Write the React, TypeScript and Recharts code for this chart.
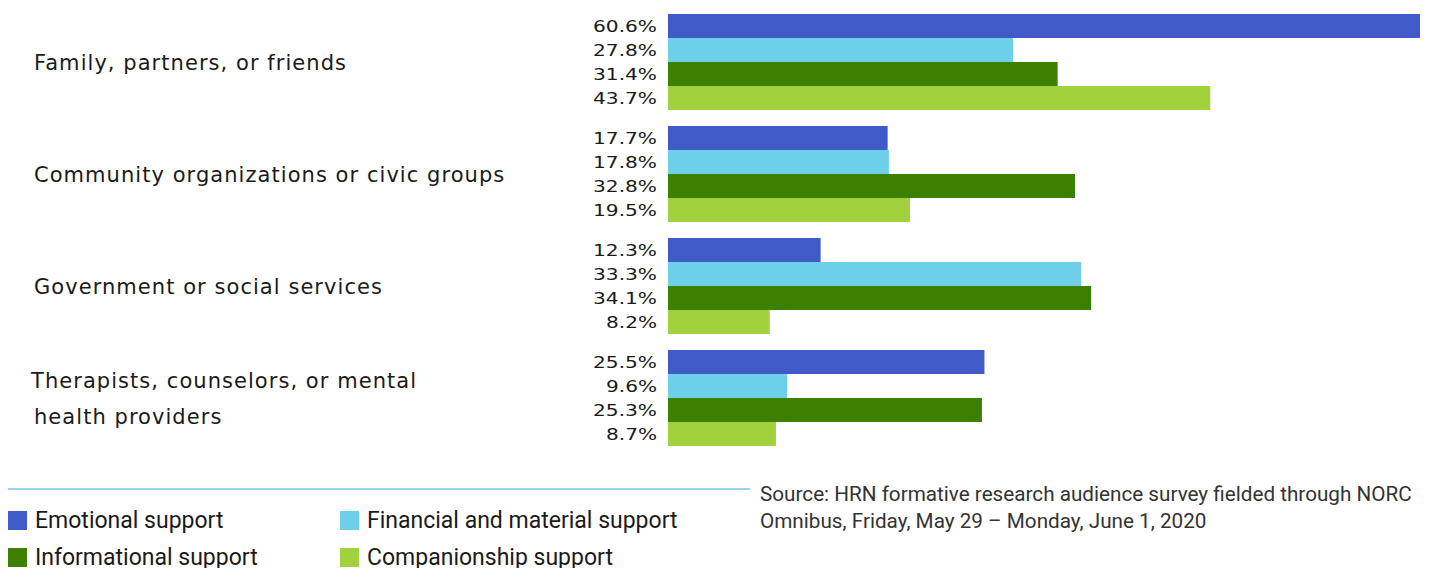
import React from "react";
import { Bar, BarChart, LabelList, Legend, XAxis, YAxis } from "recharts";

const categories = [
  "Family, partners, or friends",
  "Community organizations or civic groups",
  "Government or social services",
  "Therapists, counselors, or mental|health providers",
];
const emotional = [60.6, 17.7, 12.3, 25.5];
const financial = [27.8, 17.8, 33.3, 9.6];
const informational = [31.4, 32.8, 34.1, 25.3];
const companionship = [43.7, 19.5, 8.2, 8.7];

const series = [
  { key: "emotional", name: "Emotional support", color: "#405bc8" },
  { key: "financial", name: "Financial and material support", color: "#6dcfea" },
  { key: "informational", name: "Informational support", color: "#3d7f00" },
  { key: "companionship", name: "Companionship support", color: "#a1d13d" },
];

const data = categories.map((c, i) => ({
  category: c,
  emotional: emotional[i],
  financial: financial[i],
  informational: informational[i],
  companionship: companionship[i],
}));

const CategoryTick = (props: any) => {
  const { y, payload } = props;
  const lines = String(payload.value).split("|");
  const start = -((lines.length - 1) * 36) / 2;
  return (
    <g>
      {lines.map((line, i) => (
        <text
          key={i}
          x={i === 0 && lines.length > 1 ? 31 : 34}
          y={y + start + i * 36}
          dy={8}
          textAnchor="start"
          fill="#1a1a1a"
          fontSize={21}
          letterSpacing={1.05}
          fontFamily="DejaVu Sans"
        >
          {line}
        </text>
      ))}
    </g>
  );
};

// the source font is an extended face, so the labels are stretched to its width
const ValueLabel = (props: any) => {
  const { x, y, height, value } = props;
  const label = `${value}%`;
  return (
    <text
      x={x - 11}
      y={y + height / 2}
      dy={6}
      textAnchor="end"
      fill="#1a1a1a"
      fontSize={15.5}
      fontFamily="DejaVu Sans"
      textLength={label.length >= 5 ? 64 : 51}
      lengthAdjust="spacingAndGlyphs"
    >
      {label}
    </text>
  );
};

const LegendContent = () => (
  <div style={{ position: "relative", width: 1440, height: 88, fontFamily: "Roboto" }}>
    <div style={{ position: "absolute", left: 8, top: 8, width: 742, height: 2, background: "#93d6ee" }} />
    {series.map((s, i) => (
      <div
        key={s.key}
        style={{
          position: "absolute",
          left: i % 2 === 0 ? 8 : 340,
          top: 26 + Math.floor(i / 2) * 37,
          height: 28,
          display: "flex",
          alignItems: "center",
          fontSize: 23,
          color: "#1a1a1a",
          whiteSpace: "nowrap",
        }}
      >
        <span style={{ width: 19, height: 19, background: s.color, display: "inline-block", marginRight: 8 }} />
        {s.name}
      </div>
    ))}
    <div style={{ position: "absolute", left: 760, top: 1, fontSize: 20.7, lineHeight: "27px", color: "#333", whiteSpace: "nowrap" }}>
      Source: HRN formative research audience survey fielded through NORC
      <br />
      Omnibus, Friday, May 29 – Monday, June 1, 2020
    </div>
  </div>
);

export default function App() {
  return (
    <div style={{ position: "absolute", left: 0, top: 0, background: "#fff" }}>
      <BarChart
        width={1440}
        height={568}
        data={data}
        layout="vertical"
        margin={{ top: 6, right: 20, bottom: 26, left: 0 }}
        barGap={0}
        barSize={24}
      >
        <XAxis type="number" domain={[0, 60.6]} hide />
        <YAxis
          type="category"
          dataKey="category"
          width={668}
          axisLine={false}
          tickLine={false}
          tick={<CategoryTick />}
          interval={0}
        />
        <Legend
          content={<LegendContent />}
          wrapperStyle={{ position: "absolute", left: 0, top: 480, width: 1440, height: 88 }}
        />
        {series.map((s) => (
          <Bar key={s.key} dataKey={s.key} name={s.name} fill={s.color} isAnimationActive={false}>
            <LabelList dataKey={s.key} content={<ValueLabel />} />
          </Bar>
        ))}
      </BarChart>
    </div>
  );
}
